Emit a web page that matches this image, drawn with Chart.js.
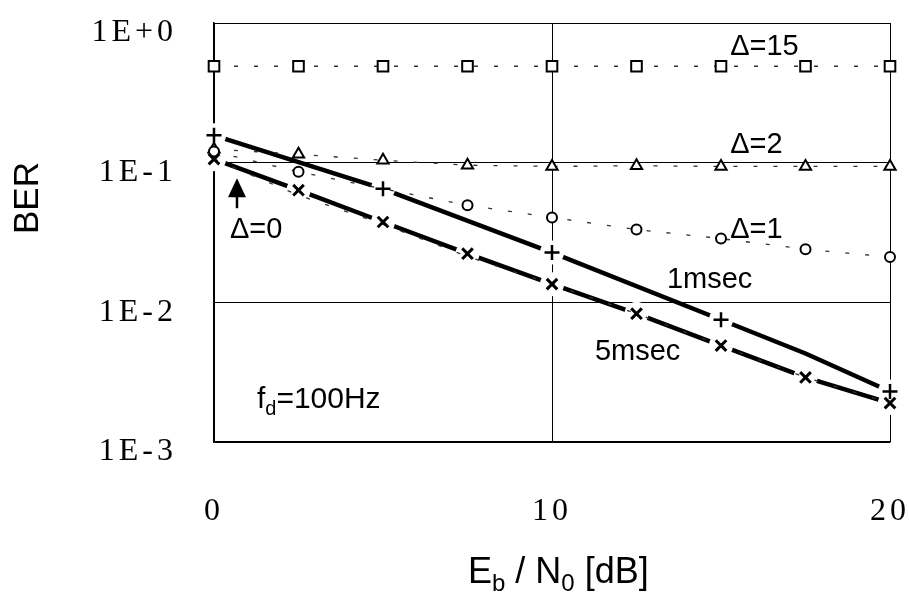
<!DOCTYPE html>
<html>
<head>
<meta charset="utf-8">
<script src="https://cdn.jsdelivr.net/npm/chart.js@4.4.0/dist/chart.umd.min.js"></script>
<style>
  html, body { margin: 0; padding: 0; background: #fff; }
  #wrap { width: 909px; height: 593px; position: relative; }
</style>
</head>
<body>
<div id="wrap"><canvas id="ber"></canvas></div>
<script>
// Eb/N0 in dB where results were taken
const snr = [0, 2.5, 5, 7.5, 10, 12.5, 15, 17.5, 20];

// dotted curves (delay spread Δ)
const delta15 = [0.49, 0.49, 0.49, 0.49, 0.49, 0.49, 0.49, 0.49, 0.49];
const delta2 = [0.125, 0.115, 0.104, 0.096, 0.094, 0.095, 0.094, 0.094, 0.094];
const delta1 = [0.12, 0.086, 0.065, 0.0496, 0.0405, 0.0332, 0.0286, 0.024, 0.0211];
const delta1Shown = [true, true, false, true, true, true, true, true, true]; // hidden under the 1msec "+" at 5 dB
const delta0 = [0.106, 0.0585, 0.0362, 0.0213, 0.0135, 0.0083, 0.0049, 0.0029, 0.0019];

// thick curves
const ms5 = [0.106, 0.0635, 0.0376, 0.0223, 0.0135, 0.0083, 0.0049, 0.0029, 0.0019];
const ms1Snr = [0, 5, 10, 15, 17.5, 20];
const ms1 = [0.157, 0.065, 0.0227, 0.0075, 0.0043, 0.0023];
const ms1Marked = [true, true, true, true, false, true];

const yTicks = [1, 0.1, 0.01, 0.001];
const yTickLabels = ['1E+0', '1E-1', '1E-2', '1E-3'];
const xTicks = [0, 10, 20];

const pts = (xs, ys) => xs.map((x, i) => ({ x: x, y: ys[i] }));
const ms1Points = pts(ms1Snr, ms1);
const ms1MarkerPoints = ms1Points.filter((p, i) => ms1Marked[i]);

const dotted = {
  borderColor: '#333',
  borderWidth: 1.3,
  borderDash: [4, 16],
  pointBorderColor: '#000',
  pointBackgroundColor: '#fff',
  pointBorderWidth: 2,
  clip: false,
  order: 4
};

// white discs that open a gap in the thick lines around each marker
const gap = {
  showLine: false,
  pointRadius: 12,
  pointBorderWidth: 0,
  pointBackgroundColor: '#fff',
  pointBorderColor: '#fff',
  clip: false,
  order: 5
};

// text labels placed in data coordinates
const notes = [
  { text: 'Δ=15', x: 15.27, y: 0.59 },
  { text: 'Δ=2', x: 15.27, y: 0.117 },
  { text: 'Δ=1', x: 15.27, y: 0.0288 },
  { text: '1msec', x: 13.4, y: 0.0126 },
  { text: '5msec', x: 11.27, y: 0.00384 },
  { text: 'Δ=0', x: 0.47, y: 0.0288 }
];

const paperText = {
  id: 'paperText',
  beforeDraw(chart) { chart.ctx.letterSpacing = '4px'; },
  beforeDatasetsDraw(chart) { chart.ctx.letterSpacing = '0px'; },
  afterDraw(chart) {
    const ctx = chart.ctx;
    const sx = chart.scales.x, sy = chart.scales.y;
    ctx.save();
    ctx.letterSpacing = '0px';
    ctx.fillStyle = '#000';
    ctx.strokeStyle = '#000';
    ctx.textBaseline = 'alphabetic';
    ctx.textAlign = 'left';
    ctx.font = '29px "Liberation Sans", Arial, sans-serif';
    notes.forEach(n => {
      ctx.fillText(n.text, sx.getPixelForValue(n.x), sy.getPixelForValue(n.y));
    });

    // f_d = 100Hz
    let fx = sx.getPixelForValue(1.27);
    const fy = sy.getPixelForValue(0.00174);
    ctx.font = '30px "Liberation Sans", Arial, sans-serif';
    ctx.fillText('f', fx, fy);
    fx += ctx.measureText('f').width;
    ctx.font = '20px "Liberation Sans", Arial, sans-serif';
    ctx.fillText('d', fx, fy + 7);
    fx += ctx.measureText('d').width;
    ctx.font = '30px "Liberation Sans", Arial, sans-serif';
    ctx.fillText('=100Hz', fx, fy);

    // arrow pointing at the Δ=0 curve
    const ax = sx.getPixelForValue(0.68);
    const tip = sy.getPixelForValue(0.0774);
    const tail = sy.getPixelForValue(0.0472);
    ctx.lineWidth = 2.5;
    ctx.beginPath();
    ctx.moveTo(ax, tip + 12);
    ctx.lineTo(ax, tail);
    ctx.stroke();
    ctx.beginPath();
    ctx.moveTo(ax, tip);
    ctx.lineTo(ax - 9, tip + 19);
    ctx.lineTo(ax + 9, tip + 19);
    ctx.closePath();
    ctx.fill();

    // axis titles
    ctx.font = '35px "Liberation Sans", Arial, sans-serif';
    ctx.save();
    ctx.translate(28, 198);
    ctx.rotate(-Math.PI / 2);
    ctx.textAlign = 'center';
    ctx.textBaseline = 'middle';
    ctx.fillText('BER', 0, 0);
    ctx.restore();

    let tx = 468;
    const ty = 583;
    const big = '36px "Liberation Sans", Arial, sans-serif';
    const small = '24px "Liberation Sans", Arial, sans-serif';
    const parts = [['E', big, 0], ['b', small, 8], [' / ', big, 0], ['N', big, 0], ['0', small, 8], [' [dB]', big, 0]];
    parts.forEach(p => {
      ctx.font = p[1];
      ctx.fillText(p[0], tx, ty + p[2]);
      tx += ctx.measureText(p[0]).width;
    });
    ctx.restore();
  }
};

const tickFont = { family: '"Liberation Serif", "DejaVu Serif", serif', size: 32 };

new Chart(document.getElementById('ber'), {
  type: 'line',
  data: {
    datasets: [
      { data: ms1Points, borderColor: '#000', borderWidth: 4.5, pointRadius: 0, clip: false, order: 6 },
      { data: pts(snr, ms5), borderColor: '#000', borderWidth: 4.5, pointRadius: 0, clip: false, order: 6 },
      Object.assign({ data: ms1MarkerPoints }, gap),
      Object.assign({ data: pts(snr, ms5) }, gap),
      Object.assign({ data: pts(snr, delta0), pointRadius: 0 }, dotted),
      Object.assign({ data: pts(snr, delta1), pointStyle: 'circle',
        pointRadius: delta1Shown.map(s => s ? 5 : 0) }, dotted),
      Object.assign({ data: pts(snr, delta2), pointStyle: 'triangle', pointRadius: 6.5 }, dotted),
      Object.assign({ data: pts(snr, delta15), pointStyle: 'rect', pointRadius: 7.5 }, dotted),
      { data: ms1Points, showLine: false, pointStyle: 'cross', pointRadius: ms1Marked.map(m => m ? 7.5 : 0),
        pointBorderColor: '#000', pointBorderWidth: 2.5, clip: false, order: 1 },
      { data: pts(snr, ms5), showLine: false, pointStyle: 'crossRot', pointRadius: 7.5,
        pointBorderColor: '#000', pointBorderWidth: 3, clip: false, order: 1 }
    ]
  },
  options: {
    responsive: true,
    maintainAspectRatio: false,
    animation: false,
    events: [],
    devicePixelRatio: 1,
    layout: { padding: { top: 23, right: 19, left: 0, bottom: 0 } },
    plugins: { legend: { display: false }, tooltip: { enabled: false } },
    scales: {
      x: {
        type: 'linear',
        min: 0,
        max: 20,
        afterBuildTicks: s => { s.ticks = xTicks.map(v => ({ value: v })); },
        afterFit: s => { s.height = 151; s.paddingLeft = 0; s.paddingRight = 0; },
        grid: { color: '#000', lineWidth: 1, drawTicks: false },
        border: { color: '#000', width: 1.5 },
        ticks: { color: '#000', font: tickFont, padding: 50, maxRotation: 0 }
      },
      y: {
        type: 'logarithmic',
        min: 0.001,
        max: 1,
        afterBuildTicks: s => { s.ticks = yTicks.map(v => ({ value: v })); },
        afterFit: s => { s.width = 214; s.paddingTop = 0; s.paddingBottom = 0; },
        grid: { color: '#000', lineWidth: 1, drawTicks: false },
        border: { color: '#000', width: 1.5 },
        ticks: {
          color: '#000', font: tickFont, padding: 37, labelOffset: 10,
          callback: v => yTickLabels[yTicks.indexOf(v)]
        }
      }
    }
  },
  plugins: [paperText]
});
</script>
</body>
</html>
